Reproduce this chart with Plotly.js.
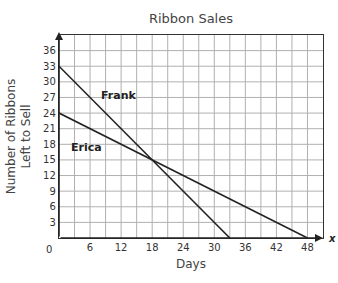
<!DOCTYPE html>
<html><head><meta charset="utf-8">
<script src="https://cdn.plot.ly/plotly-3.0.1.min.js"></script>
<style>html,body{margin:0;padding:0;background:#fff}#c{width:338px;height:283px}</style>
</head><body><div id="c"></div>
<script>
const frankDays = [0, 33];
const frankRibbons = [33, 0];
const ericaDays = [0, 48];
const ericaRibbons = [24, 0];
const xTicks = [6, 12, 18, 24, 30, 36, 42, 48];
const yTicks = [3, 6, 9, 12, 15, 18, 21, 24, 27, 30, 33, 36];
const gridX = [3,6,9,12,15,18,21,24,27,30,33,36,39,42,45,48];
const gridY = [3,6,9,12,15,18,21,24,27,30,33,36];

const lineStyle = {color: '#222', width: 1.6};
const traces = [
  {x: frankDays, y: frankRibbons, mode: 'lines', line: lineStyle, name: 'Frank', hoverinfo: 'skip'},
  {x: ericaDays, y: ericaRibbons, mode: 'lines', line: lineStyle, name: 'Erica', hoverinfo: 'skip'}
];
const layout = {
  width: 338, height: 283,
  margin: {l: 59, r: 15, t: 35, b: 45},
  showlegend: false,
  paper_bgcolor: '#fff', plot_bgcolor: '#fff',
  font: {family: 'Verdana, DejaVu Sans, sans-serif', color: '#333', size: 10},
  title: {text: 'Ribbon Sales', x: 0.565, xanchor: 'center', y: 0.935, yanchor: 'middle', font: {size: 13, color: '#444'}},
  xaxis: {
    range: [0, 51], tickvals: xTicks, ticks: '', showgrid: false, zeroline: false,
    showline: true, linecolor: '#333', linewidth: 1.2, mirror: true,
    tickfont: {size: 10, color: '#333'},
    title: {text: 'Days', font: {size: 12, color: '#444'}, standoff: 7}
  },
  yaxis: {
    range: [0, 39], tickvals: yTicks, ticks: '', showgrid: false, zeroline: false,
    showline: true, linecolor: '#333', linewidth: 1.2, mirror: true,
    tickfont: {size: 10, color: '#333'},
    title: {text: 'Number of Ribbons<br>Left to Sell', font: {size: 12, color: '#444'}, standoff: 9}
  },
  shapes: [],
  annotations: [
    {x: 11.5, y: 27.3, text: '<b>Frank</b>', showarrow: false, font: {size: 11, color: '#222'}},
    {x: 5.4, y: 17.4, text: '<b>Erica</b>', showarrow: false, font: {size: 11, color: '#222'}},
    {x: 0, y: 0, text: '0', showarrow: false, xanchor: 'right', yanchor: 'top', xshift: -5, yshift: -4, font: {size: 10, color: '#333'}},
    {x: 0, y: 39.6, ax: 0, ay: 0, axref: 'x', ayref: 'y', xref: 'x', yref: 'y', text: '', showarrow: true, arrowhead: 2, arrowsize: 1, arrowwidth: 1.6, arrowcolor: '#222'},
    {x: 51, y: 0, ax: 0, ay: 0, axref: 'x', ayref: 'y', xref: 'x', yref: 'y', text: '', showarrow: true, arrowhead: 2, arrowsize: 1, arrowwidth: 1.6, arrowcolor: '#222'},
    {x: 0, y: 39.6, text: '<b><i>y</i></b>', showarrow: false, yanchor: 'bottom', yshift: -1, font: {size: 10, color: '#222'}},
    {x: 51, y: 0, text: '<b><i>x</i></b>', showarrow: false, xanchor: 'left', xshift: 3, font: {size: 10, color: '#222'}}
  ]
};
gridX.forEach(v => layout.shapes.push({type: 'line', xref: 'x', yref: 'y', x0: v, x1: v, y0: 0, y1: 39, line: {color: '#b0b0b0', width: 1}, layer: 'below'}));
gridY.forEach(v => layout.shapes.push({type: 'line', xref: 'x', yref: 'y', x0: 0, x1: 51, y0: v, y1: v, line: {color: '#b0b0b0', width: 1}, layer: 'below'}));
Plotly.newPlot('c', traces, layout, {displayModeBar: false, staticPlot: true});
</script></body></html>
